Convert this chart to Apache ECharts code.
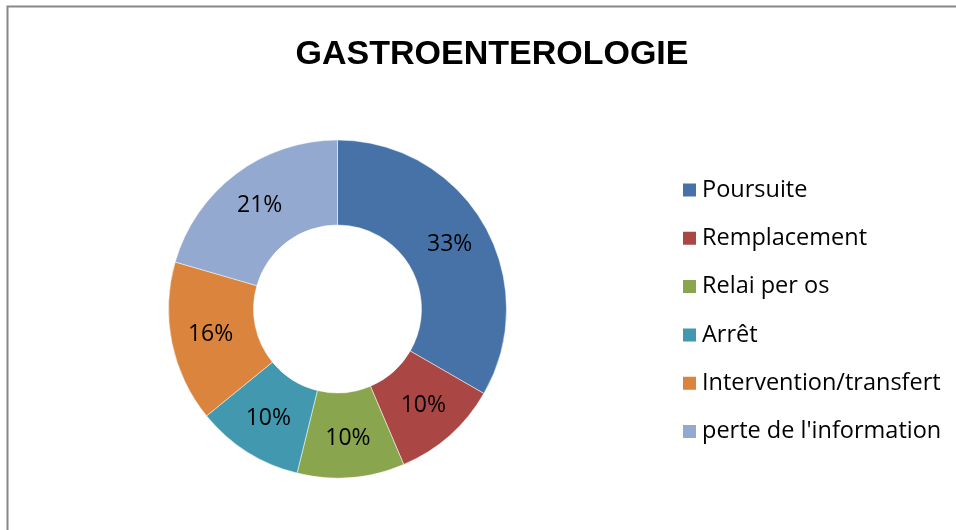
<!DOCTYPE html>
<html>
<head>
<meta charset="utf-8">
<script src="https://cdn.jsdelivr.net/npm/echarts@6/dist/echarts.min.js"></script>
<style>
	html, body { margin: 0; padding: 0; background: #fff; }
	#content-data { width: 956px; height: 530px; }
</style>
</head>
<body>
<div id="content-data"></div>
<script>
var categories = ['Poursuite', 'Remplacement', 'Relai per os', 'Arrêt', 'Intervention/transfert', "perte de l'information"];
var counts = [13, 4, 4, 4, 6, 8];
var colors = ['#4672A8', '#AA4643', '#89A54E', '#4198AF', '#DB843D', '#93A9CF'];
var chartTitle = 'GASTROENTEROLOGIE';

function graphic1(){
	var dom = document.getElementById('content-data');
	var myChart = echarts.init(dom, null, {
		renderer: 'canvas',
		useDirtyRect: false
	});

	var pieData = categories.map(function(name, i){
		return { value: counts[i], name: name };
	});

	var option = {
		animation: false,
		color: colors,
		title: {
			text: chartTitle,
			left: 487,
			textAlign: 'center',
			top: 33,
			textStyle: {
				fontFamily: 'Liberation Sans',
				fontWeight: 'bold',
				fontSize: 34,
				color: '#000'
			}
		},
		legend: {
			orient: 'vertical',
			left: 681,
			top: 178,
			padding: 0,
			itemWidth: 15,
			itemHeight: 15,
			itemGap: 24.3,
			icon: 'rect',
			textStyle: {
				fontFamily: 'Open Sans',
				fontSize: 23.5,
				lineHeight: 24,
				color: '#000'
			}
		},
		graphic: [
			{
				type: 'rect',
				shape: { x: 7.5, y: 6.5, width: 1000, height: 600 },
				style: { fill: 'none', stroke: '#878787', lineWidth: 2 },
				silent: true
			}
		],
		series: [
			{
				name: chartTitle,
				type: 'pie',
				center: [337.5, 309],
				radius: [84, 169],
				startAngle: 90,
				clockwise: true,
				percentPrecision: 0,
				avoidLabelOverlap: false,
				itemStyle: {
					borderColor: '#fff',
					borderWidth: 0.5
				},
				label: {
					show: true,
					position: 'inside',
					formatter: '{d}%',
					fontFamily: 'Open Sans',
					fontSize: 23,
					color: '#000'
				},
				labelLine: { show: false },
				data: pieData
			}
		]
	};

	if (option && typeof option === 'object') {
		myChart.setOption(option);
	}
	window.addEventListener('resize', myChart.resize);
}
graphic1()
</script>
</body>
</html>
